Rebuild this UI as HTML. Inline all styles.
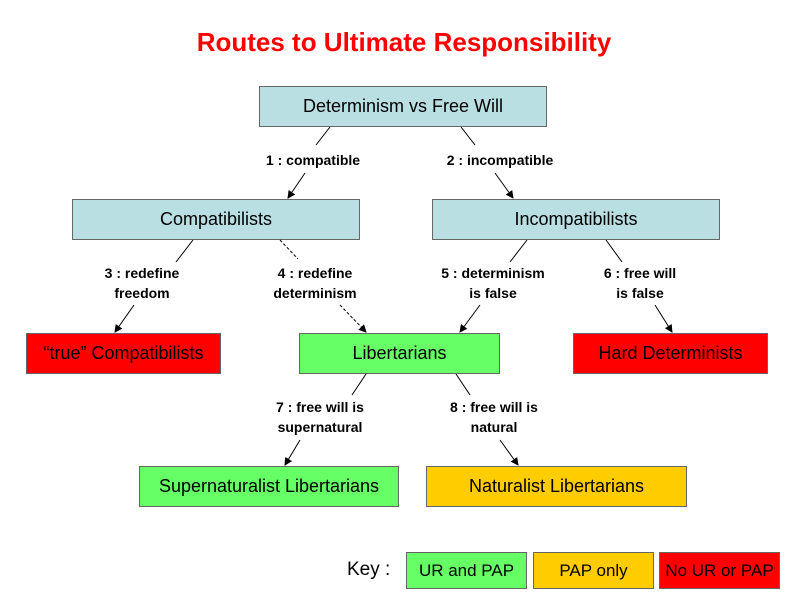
<!DOCTYPE html>
<html><head><style>
body{margin:0;width:800px;height:600px;background:#fff;position:relative;font-family:"Liberation Sans",sans-serif;overflow:hidden}
.b{position:absolute;box-sizing:border-box;border:1px solid #666;display:flex;align-items:center;justify-content:center;font-size:18px;color:#000}
.bl{background:#b9dfe2}.g{background:#66ff66}.o{background:#ffcc00}.r{background:#ff0000}
.l{position:absolute;font-size:14px;font-weight:bold;text-align:center;line-height:20px;transform:translateX(-50%);white-space:nowrap}
svg{position:absolute;left:0;top:0}
</style></head><body>
<div style="position:absolute;left:4px;width:800px;top:27px;text-align:center;color:#ff0000;font-weight:bold;font-size:26px">Routes to Ultimate Responsibility</div>
<div class="b bl" style="left:259px;top:86px;width:288px;height:41px">Determinism vs Free Will</div>
<div class="b bl" style="left:72px;top:199px;width:288px;height:41px">Compatibilists</div>
<div class="b bl" style="left:432px;top:199px;width:288px;height:41px">Incompatibilists</div>
<div class="b r" style="left:26px;top:333px;width:195px;height:41px">“true” Compatibilists</div>
<div class="b g" style="left:299px;top:333px;width:201px;height:41px">Libertarians</div>
<div class="b r" style="left:573px;top:333px;width:195px;height:41px">Hard Determinists</div>
<div class="b g" style="left:139px;top:466px;width:260px;height:41px">Supernaturalist Libertarians</div>
<div class="b o" style="left:426px;top:466px;width:261px;height:41px">Naturalist Libertarians</div>
<div class="l" style="left:313px;top:150px">1 : compatible</div>
<div class="l" style="left:500px;top:150px">2 : incompatible</div>
<div class="l" style="left:142px;top:263px">3 : redefine<br>freedom</div>
<div class="l" style="left:315px;top:263px">4 : redefine<br>determinism</div>
<div class="l" style="left:493px;top:263px">5 : determinism<br>is false</div>
<div class="l" style="left:640px;top:263px">6 : free will<br>is false</div>
<div class="l" style="left:320px;top:397px">7 : free will is<br>supernatural</div>
<div class="l" style="left:494px;top:397px">8 : free will is<br>natural</div>
<div style="position:absolute;left:347px;top:559px;font-size:19px">Key :</div>
<div class="b g" style="left:406px;top:552px;width:121px;height:37px;font-size:17px">UR and PAP</div>
<div class="b o" style="left:533px;top:552px;width:121px;height:37px;font-size:17px">PAP only</div>
<div class="b r" style="left:659px;top:552px;width:121px;height:37px;font-size:17px">No UR or PAP</div>
<svg width="800" height="600">
<defs><marker id="a" markerWidth="8" markerHeight="8" refX="7" refY="4" orient="auto" markerUnits="userSpaceOnUse"><path d="M0,0L8,4L0,8z" fill="#000"/></marker></defs>
<g stroke="#000" stroke-width="1" fill="none">
<line x1="330" y1="127" x2="316" y2="145"/><line x1="305" y1="173" x2="288" y2="198" marker-end="url(#a)"/>
<line x1="461" y1="127" x2="475" y2="145"/><line x1="495" y1="173" x2="513" y2="198" marker-end="url(#a)"/>
<line x1="193" y1="240" x2="176" y2="262"/><line x1="134" y1="305" x2="115" y2="332" marker-end="url(#a)"/>
<g stroke-dasharray="3,2"><line x1="280" y1="240" x2="298" y2="259"/><line x1="340" y1="305" x2="366" y2="332" marker-end="url(#a)"/></g>
<line x1="527" y1="240" x2="510" y2="262"/><line x1="480" y1="305" x2="460" y2="332" marker-end="url(#a)"/>
<line x1="606" y1="240" x2="622" y2="262"/><line x1="655" y1="305" x2="672" y2="332" marker-end="url(#a)"/>
<line x1="366" y1="374" x2="352" y2="395"/><line x1="300" y1="440" x2="285" y2="465" marker-end="url(#a)"/>
<line x1="456" y1="374" x2="470" y2="395"/><line x1="500" y1="440" x2="518" y2="465" marker-end="url(#a)"/>
</g></svg>
</body></html>
